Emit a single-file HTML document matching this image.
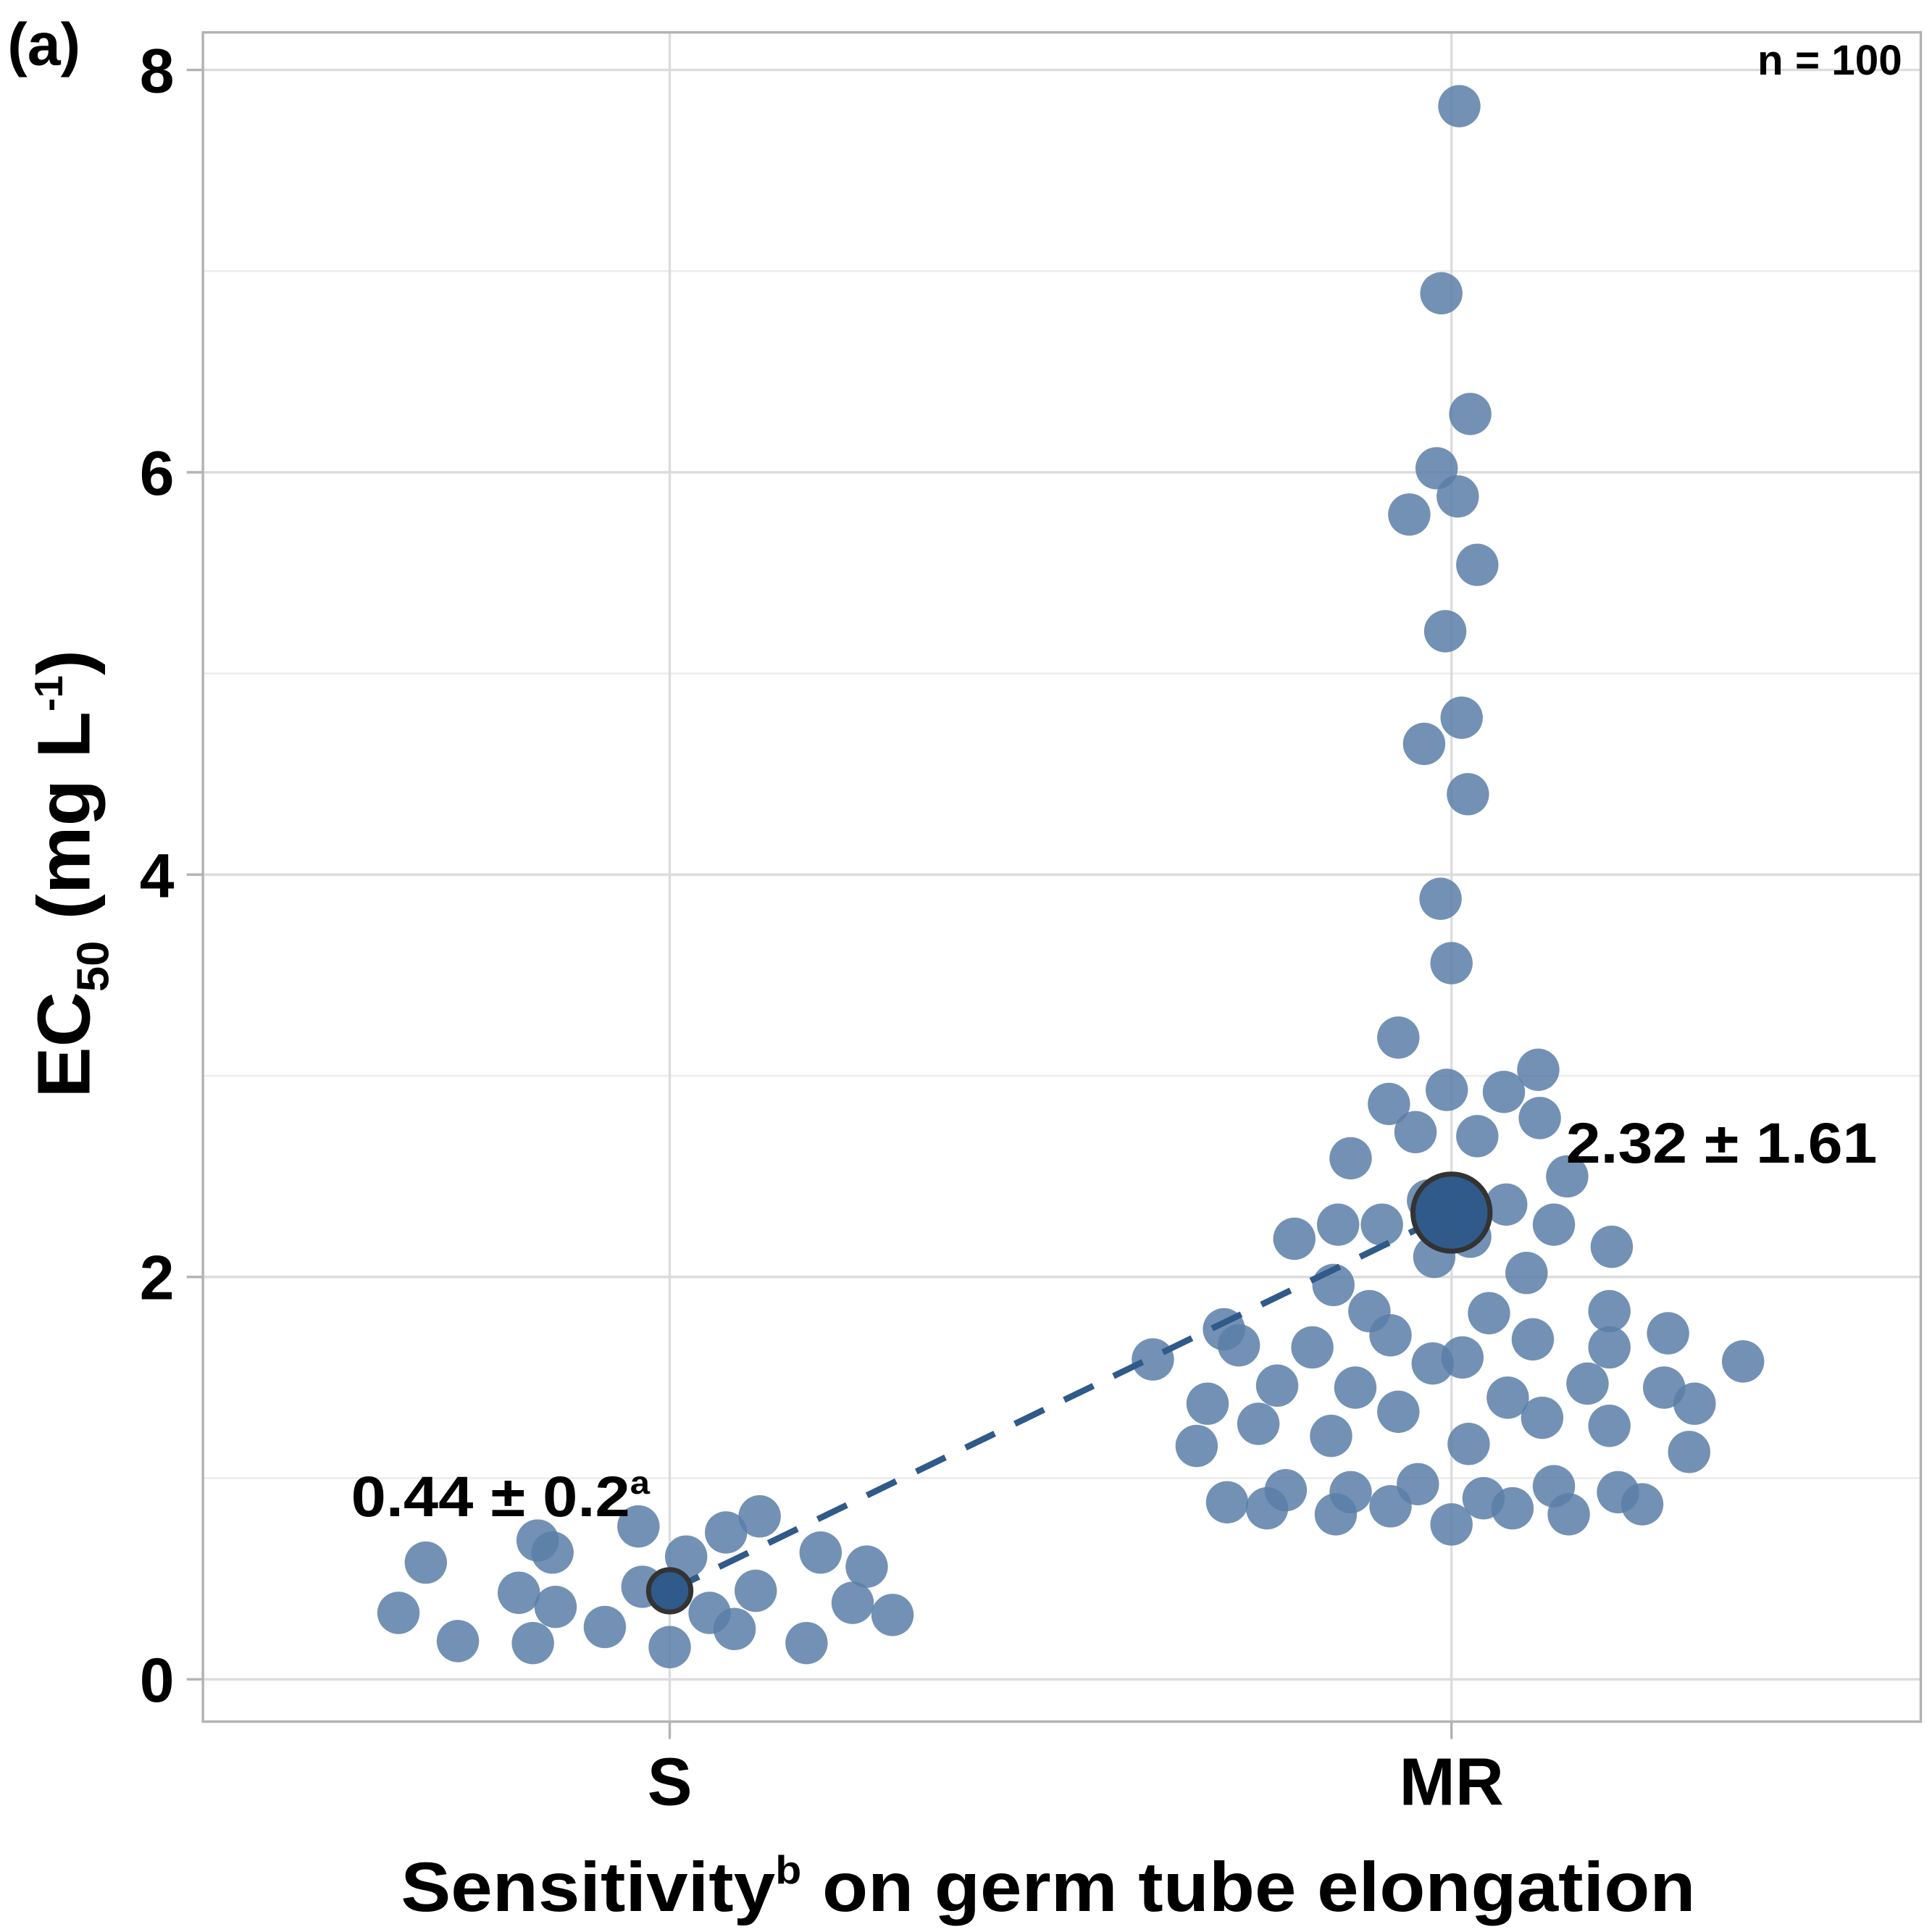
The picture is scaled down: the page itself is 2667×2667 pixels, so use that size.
<!DOCTYPE html>
<html><head><meta charset="utf-8"><style>
html,body{margin:0;padding:0;background:#fff}
svg{display:block}
text{font-family:"Liberation Sans",sans-serif;font-weight:bold;fill:#000}
</style></head><body>
<svg id="chart" width="2667" height="2667" viewBox="0 0 1552 1552" xmlns="http://www.w3.org/2000/svg">
<g id="grid"></g>
<g id="dots"></g>
<rect x="163" y="26" width="1380" height="1357" fill="none" stroke="#b3b3b3" stroke-width="2"/>
<g id="axes"></g>
<text x="6" y="52" font-size="48">(a)</text>
<text x="1528" y="60" font-size="34" text-anchor="end">n = 100</text>
<text x="842" y="1535" font-size="56" text-anchor="middle" textLength="1040" lengthAdjust="spacingAndGlyphs">Sensitivity<tspan font-size="32" dy="-22">b</tspan><tspan dy="22"> on germ tube elongation</tspan></text>
<text transform="translate(72,702) rotate(-90)" font-size="60" text-anchor="middle" textLength="360" lengthAdjust="spacingAndGlyphs">EC<tspan font-size="36" dy="15">50</tspan><tspan dy="-15"> (mg L</tspan><tspan font-size="32" dy="-22">-1</tspan><tspan dy="22">)</tspan></text>
</svg>
<script>
const categories = ["S","MR"];
const yTicks = [0,2,4,6,8];
const yMinor = [1,3,5,7];
const sValues = [0.33,0.58,0.19,0.43,0.18,0.69,0.63,0.36,0.26,0.76,0.46,0.16,0.61,0.33,0.73,0.25,0.44,0.81,0.18,0.63,0.38,0.56,0.32];
const sJitter = [-0.347,-0.312,-0.271,-0.193,-0.175,-0.169,-0.150,-0.146,-0.083,-0.040,-0.035,0,0.021,0.051,0.072,0.083,0.110,0.115,0.175,0.193,0.234,0.252,0.285];
const mrValues = [7.82,6.89,6.29,6.02,5.88,5.79,5.54,5.21,4.78,4.65,4.40,3.88,3.56,3.19,3.03,2.93,2.92,2.86,2.79,2.72,2.70,2.59,2.50,2.38,2.36,2.19,2.26,2.26,2.26,2.20,2.10,2.15,2.02,1.96,1.83,1.82,1.83,1.74,1.71,1.72,1.66,1.65,1.69,1.65,1.59,1.57,1.60,1.58,1.46,1.45,1.47,1.45,1.37,1.40,1.37,1.33,1.30,1.27,1.26,1.21,1.16,1.17,1.13,0.94,0.97,0.93,0.96,0.93,0.88,0.90,0.85,0.86,0.85,0.87,0.82,0.82,0.77];
const mrJitter = [0.010,-0.013,0.024,-0.019,0.008,-0.054,0.033,-0.008,0.013,-0.035,0.021,-0.014,0,-0.068,0.111,-0.006,0.067,-0.080,0.113,-0.046,0.033,-0.129,0.148,-0.030,0.070,-0.201,-0.145,-0.089,0.131,0.024,-0.022,0.205,0.096,-0.151,-0.105,0.048,0.202,-0.291,-0.078,0.277,-0.272,-0.178,0.104,0.202,-0.382,-0.024,0.014,0.373,-0.223,-0.123,0.174,0.272,-0.312,0.072,0.311,-0.068,0.116,-0.247,0.202,-0.154,-0.326,0.022,0.304,-0.212,-0.043,-0.129,0.131,0.213,-0.287,0.041,-0.236,-0.078,0.078,0.244,-0.148,0.150,0];
const means = [0.44,2.32];
const meanLabels = ["0.44 ± 0.2","2.32 ± 1.61"];
const NS="http://www.w3.org/2000/svg";
const X = c => 538 + c*628;
const Y = v => 1349 - v*161.6;
function mk(tag, attrs, parent){const e=document.createElementNS(NS,tag);for(const k in attrs)e.setAttribute(k,attrs[k]);parent.appendChild(e);return e;}
const grid=document.getElementById('grid'), dots=document.getElementById('dots'), axes=document.getElementById('axes');
yMinor.forEach(v=>{const l=mk('line',{x1:163,x2:1543,y1:Y(v),y2:Y(v),stroke:'#ececec','stroke-width':1.5},grid);

});
yTicks.forEach(v=>{const l=mk('line',{x1:163,x2:1543,y1:Y(v),y2:Y(v),stroke:'#dcdcdc','stroke-width':2},grid);


const t=mk('line',{x1:150,x2:163,y1:Y(v),y2:Y(v),stroke:'#b3b3b3','stroke-width':2},axes);


const tx=mk('text',{x:140,y:Y(v)+18,'font-size':50,'text-anchor':'end'},axes);tx.textContent=v;

});
categories.forEach((c,i)=>{const l=mk('line',{x1:X(i),x2:X(i),y1:26,y2:1383,stroke:'#dcdcdc','stroke-width':2},grid);


const t=mk('line',{x1:X(i),x2:X(i),y1:1383,y2:1397,stroke:'#b3b3b3','stroke-width':2},axes);


const tx=mk('text',{x:X(i),y:1450,'font-size':54,'text-anchor':'middle'},axes);tx.textContent=c;

});
function pts(vals,jit,ci){vals.forEach((v,i)=>{const c=mk('circle',{cx:X(ci+jit[i]),cy:Y(v),r:17,fill:'#5a7ea8','fill-opacity':0.85},dots);

});}
pts(sValues,sJitter,0);pts(mrValues,mrJitter,1);
const ln=mk('line',{x1:X(0),y1:Y(means[0]),x2:X(1),y2:Y(means[1]),stroke:'#2f5a8a','stroke-width':5,'stroke-dasharray':'26 18'},dots);


means.forEach((m,i)=>{const c=mk('circle',{cx:X(i),cy:Y(m),r:i?31:17,fill:'#2f5a8a',stroke:'#333','stroke-width':4},dots);

});
const l0=mk('text',{x:282,y:1218,'font-size':46,textLength:240,lengthAdjust:'spacingAndGlyphs'},axes);l0.textContent=meanLabels[0];
const sup=mk('tspan',{'font-size':26,dy:-18},l0);sup.textContent='a';


const l1=mk('text',{x:1258,y:934,'font-size':46,textLength:250,lengthAdjust:'spacingAndGlyphs'},axes);l1.textContent=meanLabels[1];


</script>
</body></html>
